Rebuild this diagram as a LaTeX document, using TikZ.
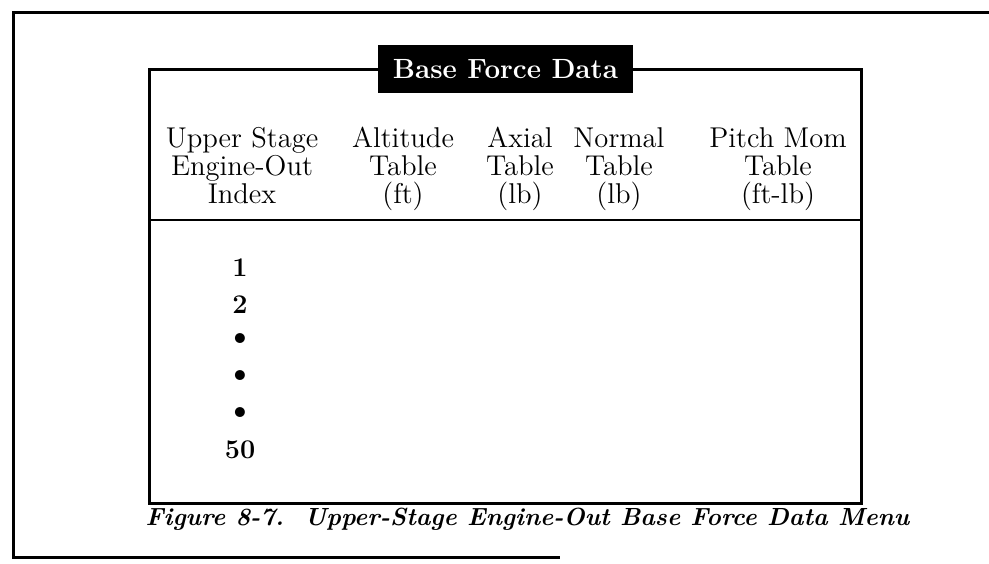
\documentclass[tikz,border=0pt]{standalone}
\tikzset{
    frameline/.style={line width=1.5pt},
    titlebox/.style={fill=black, text=white, inner sep=0pt, minimum width=127.5pt, minimum height=24pt,
        font=\bfseries\fontsize{13.9}{16}\selectfont},
    colhead/.style={align=center, inner sep=0pt, anchor=north, font=\fontsize{14.3}{14}\selectfont},
    rowlabel/.style={inner sep=0pt, font=\bfseries\fontsize{13.5}{15}\selectfont},
    rowdot/.style={inner sep=0pt, font=\bfseries\fontsize{17}{17}\selectfont},
    caption/.style={inner sep=0pt, anchor=base, font=\bfseries\itshape\fontsize{12.4}{15}\selectfont}
}
\begin{document}
\begin{tikzpicture}[x=0.5pt, y=-0.5pt]
        \useasboundingbox (0,0) rectangle (989,563);
        \draw[frameline] (989,12) -- (13,12) -- (13,557) -- (560,557);
        \draw[frameline] (149,69) rectangle (861,503);
        \draw[line width=1.3pt] (149,220) -- (861,220);
        \node[titlebox] (title) at (505.5,69) {Base Force Data};
        \node[colhead] (hIndex)  at (242,127) {Upper Stage\\Engine-Out\\Index};
        \node[colhead] (hAlt)    at (403,127) {Altitude\\Table\\(ft)};
        \node[colhead] (hAxial)  at (520,127) {Axial\\Table\\(lb)};
        \node[colhead] (hNormal) at (619,127) {Normal\\Table\\(lb)};
        \node[colhead] (hPitch)  at (778,127) {Pitch Mom\\Table\\(ft-lb)};
        \node[rowlabel] (n1)  at (240,268) {1};
        \node[rowlabel] (n2)  at (240,305) {2};
        \node[rowdot] (d1)  at (240,340) {\textbullet};
        \node[rowdot] (d2)  at (240,377) {\textbullet};
        \node[rowdot] (d3)  at (240,414) {\textbullet};
        \node[rowlabel] (n50) at (240,450) {50};
        \node[caption] (cap) at (527.5,525) {Figure 8-7.\ \ Upper-Stage Engine-Out Base Force Data Menu};
\end{tikzpicture}
\end{document}
